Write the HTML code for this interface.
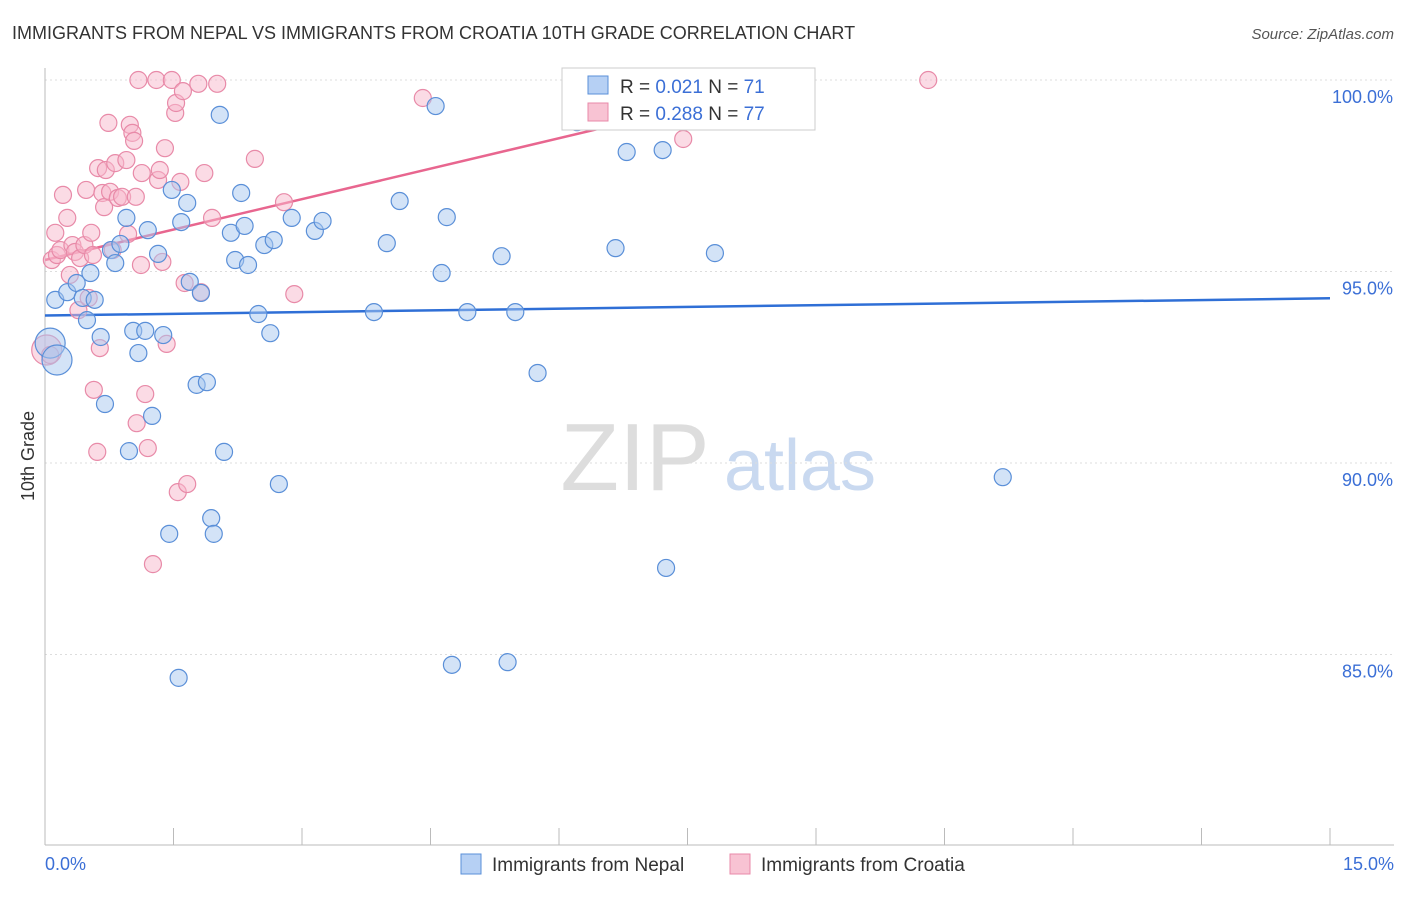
<!DOCTYPE html>
<html><head><meta charset="utf-8">
<style>
body{margin:0;background:#fff;font-family:"Liberation Sans",sans-serif;}
svg text{font-family:"Liberation Sans",sans-serif;}
</style></head>
<body>
<svg id="chart" width="1406" height="892" xmlns="http://www.w3.org/2000/svg">
<text x="12" y="39" font-size="18" fill="#333">IMMIGRANTS FROM NEPAL VS IMMIGRANTS FROM CROATIA 10TH GRADE CORRELATION CHART</text>
<text x="1394" y="39" font-size="15" fill="#555" font-style="italic" text-anchor="end">Source: ZipAtlas.com</text>
<text transform="translate(34,456) rotate(-90)" font-size="18" fill="#333" text-anchor="middle">10th Grade</text>
<g>
<text x="635" y="490" font-size="96" fill="#ddd" font-family="Liberation Serif" text-anchor="middle">ZIP</text>
<text x="800" y="490" font-size="72" fill="#c9d9f0" text-anchor="middle">atlas</text>
</g>
<g id="grid"></g><g id="axes"></g><g id="trend"></g><g id="pts"></g>
<g>
<rect x="562" y="68" width="253" height="62" fill="#fff" stroke="#ccc"/>
<rect x="588" y="76" width="20" height="18" fill="#b6d0f4" stroke="#5a8fd8"/>
<text x="620" y="93" font-size="19" fill="#333">R = <tspan fill="#3b6fd6">0.021</tspan>   N = <tspan fill="#3b6fd6">71</tspan></text>
<rect x="588" y="103" width="20" height="18" fill="#f8c3d3" stroke="#e88aa8"/>
<text x="620" y="120" font-size="19" fill="#333">R = <tspan fill="#3b6fd6">0.288</tspan>   N = <tspan fill="#3b6fd6">77</tspan></text>
</g>
<g>
<rect x="461" y="854" width="20" height="20" fill="#b6d0f4" stroke="#5a8fd8"/>
<text x="492" y="871" font-size="19" fill="#333">Immigrants from Nepal</text>
<rect x="730" y="854" width="20" height="20" fill="#f8c3d3" stroke="#e88aa8"/>
<text x="761" y="871" font-size="19" fill="#333">Immigrants from Croatia</text>
</g>
</svg>
<script>
const xTicks=[0,1.5,3,4.5,6,7.5,9,10.5,12,13.5,15];
const yTicks=[100,95,90,85];
const nepalX=[.06,.14,.12,.26,.37,.44,.58,.49,.53,.65,.70,.77,.82,.88,.95,.98,1.03,1.09,1.17,1.20,1.25,1.32,1.38,1.45,1.48,1.56,1.59,1.66,1.69,1.77,1.82,1.89,1.94,1.97,2.04,2.09,2.17,2.22,2.29,2.33,2.37,2.49,2.56,2.63,2.67,2.73,2.88,3.15,3.24,3.84,3.99,4.14,4.56,4.63,4.69,4.75,4.93,5.33,5.40,5.49,5.75,6.21,6.31,6.66,6.79,7.21,7.25,7.82,11.18];
const nepalY=[93.13,92.69,94.26,94.46,94.70,94.31,94.26,93.73,94.96,93.29,91.54,95.56,95.22,95.72,96.40,90.31,93.45,92.87,93.45,96.08,91.23,95.46,93.34,88.15,97.13,84.39,96.29,96.79,94.73,92.04,94.44,92.11,88.56,88.15,99.09,90.29,96.01,95.30,97.05,96.19,95.17,93.89,95.69,93.39,95.82,89.45,96.40,96.06,96.32,93.94,95.74,96.84,99.32,94.96,96.42,84.73,93.94,95.40,84.80,93.94,92.35,98.90,99.22,95.61,98.12,98.17,87.26,95.48,89.63];
const croatiaX=[.02,.06,.08,.12,.14,.18,.21,.26,.29,.32,.35,.39,.41,.46,.48,.51,.54,.56,.57,.61,.62,.64,.67,.69,.71,.74,.76,.79,.82,.85,.90,.95,.97,.99,1.02,1.04,1.06,1.07,1.09,1.12,1.13,1.17,1.20,1.26,1.30,1.32,1.34,1.37,1.40,1.42,1.48,1.52,1.53,1.55,1.58,1.61,1.63,1.66,1.79,1.82,1.86,1.95,2.01,2.45,2.79,2.91,4.41,7.45,10.31];
const croatiaY=[92.95,92.82,95.30,96.01,95.43,95.56,97.00,96.40,94.91,95.69,95.51,93.99,95.35,95.69,97.13,94.31,96.01,95.43,91.91,90.29,97.70,93.00,97.05,96.68,97.65,98.88,97.08,95.56,97.83,96.92,96.95,97.91,95.98,98.83,98.62,98.41,96.95,91.04,100,95.17,97.57,91.80,90.39,87.36,100,97.39,97.65,95.25,98.22,93.11,100,99.14,99.40,89.24,97.34,99.71,94.70,89.45,99.90,94.46,97.57,96.40,99.90,97.94,96.81,94.41,99.53,98.46,100];
const nepalBig=[0,1];
const croatiaBig=[0];
const nepalTrend=[93.85,94.30];
const croatiaTrend=[95.3,0.53];
const NS='http://www.w3.org/2000/svg';
const X=v=>45+(v/15)*1285;
const Y=v=>80+(100-v)*38.3;
function mk(t,a,p){const e=document.createElementNS(NS,t);for(const k in a)e.setAttribute(k,a[k]);document.getElementById(p).appendChild(e);return e;}
yTicks.forEach(t=>{
 const l=mk('line',{x1:45,x2:1394,y1:Y(t),y2:Y(t),stroke:'#ddd','stroke-dasharray':'2,3'},'grid');
 
 
 const tx=mk('text',{x:1393,y:Y(t)+23,'font-size':18,fill:'#3b6fd6','text-anchor':'end'},'axes');
 tx.textContent=t.toFixed(1)+'%';
 
 
});
const ax=mk('line',{x1:45,x2:1394,y1:845,y2:845,stroke:'#bbb'},'axes');


const ay=mk('line',{x1:45,x2:45,y1:68,y2:845,stroke:'#bbb'},'axes');


xTicks.forEach(t=>{
 const l=mk('line',{x1:X(t),x2:X(t),y1:828,y2:845,stroke:'#bbb'},'axes');
 
 
});
[[0,'start',45],[15,'end',1394]].forEach(([v,a,x])=>{
 const tx=mk('text',{x:x,y:870,'font-size':18,fill:'#3b6fd6','text-anchor':a},'axes');
 tx.textContent=v.toFixed(1)+'%';
 
 
});
const bl=mk('line',{x1:X(0),y1:Y(nepalTrend[0]),x2:X(15),y2:Y(nepalTrend[1]),stroke:'#2f6fd6','stroke-width':2.5},'trend');


const xe=(100-croatiaTrend[0])/croatiaTrend[1];
const pl=mk('line',{x1:X(0),y1:Y(croatiaTrend[0]),x2:X(xe),y2:Y(100),stroke:'#e8668f','stroke-width':2.5},'trend');


function pts(xs,ys,big,fill,stroke,name){
 xs.forEach((x,i)=>{
  const c=mk('circle',{cx:X(x),cy:Y(ys[i]),r:big.includes(i)?15:8.5,fill:fill,'fill-opacity':0.5,stroke:stroke,'stroke-width':1.2},'pts');
  
  
 });
}
pts(croatiaX,croatiaY,croatiaBig,'#f8b8cc','#e88aa8','croatia-point');
pts(nepalX,nepalY,nepalBig,'#a8c8f0','#5a8fd8','nepal-point');
</script>
</body></html>
